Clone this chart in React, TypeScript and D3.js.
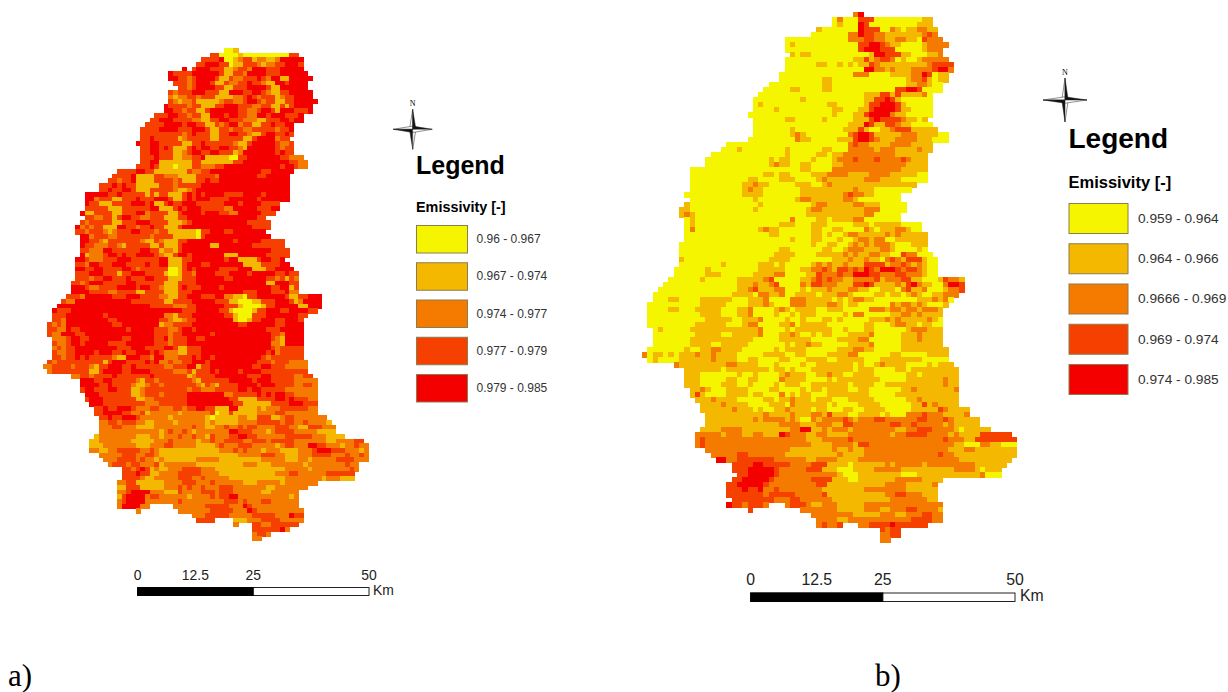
import React from "react";
import { scaleLinear, scaleOrdinal } from "d3";

// classes: 0 lowest ... 4 highest emissivity
const classColors = ["#f5f500", "#f5b800", "#f57a00", "#f54000", "#f50000"];

const leftLabels = ["0.96 - 0.967", "0.967 - 0.974", "0.974 - 0.977", "0.977 - 0.979", "0.979 - 0.985"];
const rightLabels = ["0.959 - 0.964", "0.964 - 0.966", "0.9666 - 0.969", "0.969 - 0.974", "0.974 - 0.985"];
const scaleTicks = [0, 12.5, 25, 50];

// raster outline: first column and end column of each of the 106 rows
const leftStarts = [39,36,34,33,30,27,27,28,29,27,27,27,26,26,24,23,22,21,21,21,20,21,21,21,21,20,16,15,14,12,12,9,9,9,9,8,9,8,7,7,8,8,8,8,8,7,7,7,7,7,6,6,6,5,4,3,2,2,2,1,1,1,2,2,2,2,2,1,0,1,6,8,8,8,9,9,10,11,11,12,12,12,12,11,10,10,10,12,13,14,17,17,17,16,16,16,16,16,16,20,32,33,41,45,45,45];
const leftEnds = [42,55,56,56,56,57,58,57,57,58,58,59,58,58,56,56,54,54,54,53,54,54,54,56,57,57,54,53,53,53,53,53,53,51,51,50,48,49,49,48,49,52,52,53,53,52,53,54,55,55,55,55,55,60,60,60,59,57,56,56,56,56,56,56,56,56,56,57,57,57,58,59,59,59,59,59,59,59,59,61,62,63,63,65,69,70,70,70,70,68,68,67,67,59,57,55,55,55,55,56,56,56,55,53,49,47];
const rightStarts = [40,36,36,33,32,27,27,27,28,27,27,27,26,26,24,23,22,21,21,21,20,21,21,21,21,20,16,15,13,12,12,9,9,9,9,9,8,9,8,7,7,8,8,8,8,8,7,7,7,7,7,6,6,5,4,3,2,2,1,1,1,1,1,2,2,2,2,1,0,1,6,8,8,8,8,9,9,10,11,11,12,12,12,11,10,10,10,12,13,14,17,17,18,17,16,16,16,17,16,20,32,33,33,45,45,45];
const rightEnds = [42,55,55,56,56,57,58,57,57,58,59,59,58,58,57,57,55,55,55,55,55,54,55,56,58,58,55,55,54,54,54,54,54,54,52,51,49,49,50,50,49,49,53,53,54,54,54,54,55,56,56,56,56,61,61,61,60,59,58,57,57,57,57,57,57,57,57,58,58,58,59,60,60,60,60,60,60,60,60,62,62,64,64,66,70,71,71,71,71,70,69,68,68,57,56,56,56,56,57,57,57,57,54,49,49,47];

// raster classes, row by row, from the row's first column
const leftRows = [
"001",
"3300001000000000033",
"3333400123312211244444",
"33444330113332122334443",
"4.34443331123324443334444",
"433334444443113324444333444444",
"4433234444311322333432441144444",
"33323444311322334332114434444",
"3323444433113334444311444444",
"3233344433311444334432113344444",
"2122332333111122343233312334444",
"32122311111233223443233113344444",
"43333233111334443332233113134444",
"44332331134444443322344314443334",
"33344332331144434433224434443334",
"334443333221133443332221133344344",
"33334444344331132344233113343344",
"333344443334443113323322333332334",
"333333333234333113344332113443343",
"33433333123333311333331134444233",
"4334433333113343333332113444443223",
"334434311134344334433214444443233",
"334433311234433443331244444443433",
"33343331122334111110033444444433222",
"334411111113311111113344444444443322",
"3334311101113322233444444444444344322",
"33334433111111132233444444444443344444",
"33334111133222111133332444444443344444",
"332334111133332311133433444444444444444",
"33343433111113332333334444444444444444444",
"33433443111333332112344444444444444444444",
"44444334333331313311134343444433334444344444",
"44233311333433344431134344433334444443444444",
"433111333344434113433444333333444344443333",
"333331113333334411134344433333224444433344",
"41133331133344233331134444344433224444433",
"332233134433223331113344444444444444433",
"32333331133344433331112344444444444433333",
"423233111443323343311134444444444444443333",
"33233321233344333233111111033444334444444",
"44233322333333323333111110344444444444444",
"44332133333332113211133444444444434444433333",
"43322233213333311311134444441144444443333333",
"332224433333344331221344444444444444444443333",
"412223443433444432113443444444411144444433333",
"4432223334443333334411133444444434411113443344",
"33244333444333343344111344433444444411113333443",
"443344333344323333330013434444433334441113344444",
"333444333133444333310013324444333444434444433433",
"333233443334333443331113334444443344444443323132",
"3323444333334433333311133334444444444444441144433",
"4443223333444434433211134333444434444444444334413",
"4444333322333311333311133344444444444333444333422",
"33324444443334443333221133444333442211033444444311334",
"322444444444444333333311333344444333110001133344431244",
"444444444444444444443333322233444444333100001334444411444",
"43334444444444444444444444443334444433100001334443344443",
"3334444444434444444444442213334444444331000333444444433",
"3324444444443344444444433211233444444441001334443344433",
"32324444444444334444444412233334444444444334444443344444",
"3322433444444444434444433322344344444444444444433344444",
"322444334444444444444443332334444443444444444444332444",
"2223443344444443344444334233344334444444444444432144",
"3223443444443333444444333233344444444444444444422144",
"2323344444444433344433334431133344444444444444432333",
"32233444434443343344434322211333444444444444443423333",
"3323343433333211444332442223334344344444444443233333",
"32333333333313444333343422322334443444444444433323332",
"22333323332133444334333333223334413344444444433443332",
"233333333113444433444433333222313334344443444433333333",
"2233233334333333343333333123333444444433344333332233",
"44433443333321332333333321333333444443444333332222222",
"444433433332112332333333321321333344443444333322332222",
"344333443331123333333332332223333344344333332222222222",
"44433333331123332333334444444422333334343443322222222",
"3444333333311223333333444444444331111333344343332222222",
"444333333333222333333444444444433111111333344433333332",
"33433444322233222332334433111441111212223333332222222",
"334444332231222222122222230113111112222332222222222",
"334334443222222122222221011111221133311233222222222122",
"223323332211222212222221211111222233333233223222211113",
"222332221111222222223221122322323322223332211333222211112",
"2222222222222123223212222222443332221233332222211111222",
"12222222211122122232232213222334433222222333333222111122233",
"1122222221111122232222212232233332233323333322222221122223333",
"11122222221112223322222111123222333222221233222443322212232233",
"221122333332232111111111111122232322212221111222344433322212323",
"22222333223321111111111111111122222333221112223333222322322",
"222333323221211111112222211111111122222111221222223333222213",
"23332332223122222221111111111222111222222212222222232213",
"332343121122233332221111111111111112222212222222232233",
"3334331122223333322221111111111112223322222233333332",
"3333211222223332232222211111111111122222222122211",
"22331111112222333222322222211122222122222222122",
"113331111122232322322233322222221122222222111",
"223444422211132222333233322222211222222221",
"1344442332222221222232334422222222222122",
"2344442222222322222222233323222332222222",
"2444422.....222222233333222432222222222",
"2........22222223333322243222222222",
"2223333322222333332224332222",
"3333....1112223333222223",
"2...33223333333343",
"33333342",
"23322",
"22",
];

const rightRows = [
"24",
"0200033300000000011",
"0100043000000000111",
"10000000433300210112211",
"0000000224332211111112321",
"000000000000222332211221103222101",
"01000000000000334432110000122220110",
"00000000000000344433300000122221100",
"10110000000000014433311000112222000",
"00000000000001131233201001222221000",
"00000011001010113211111111123333321",
"00000000000000044221211122223442222",
"00000000000000222000011112243011",
"00000000110000000000000012231011",
"00000000001100000000000000112210000",
"0000011000011000000000000334430000",
"000000000000000000001113313111120000",
"0000000001000000000001133431000000",
"0100000000000011000001334443100000",
"0000100000000001100011344443110000",
"0000000000000000100011344442110000",
"00000011000001000001113433332110100",
"0000000000000000001114311332110000",
"0000000100000000011131001123331111",
"00000001210000000023443111112221111000",
"000000000211000001113443211122221110000",
"00000000000000000000000232211112222111100",
"00010000000010000001100022222122211112111",
"00000000000000100000110112222222222111",
"000000000000101100001000122232223222232111",
"000000000000121100110000112222222222221111",
"00000000000000000000011000022222222222221111",
"00000000000000110110000111222211112222111110",
"00000000000110000111000012111111122211110",
"00000000001121100000111001211111111111111",
"000000000012110000000111111111121110",
"000000000001111000000011111111232211000",
"000000000000100000001221111112210000",
"10000000000000100000000012211111221110000",
"110000000000001000000000122111111112220000",
"121000000000000000000000111111111112200000",
"0100000000000000000020000110111122000",
"010000000000000000111000111000001110111110",
"020000000000001211000000110011000021011122100",
"000000000000000011000000110100122111112121111",
"00000000000000000000100011000100122122001111",
"0000000000000000000000000100110012121222100011",
"00000000000000000001100000011001222111221000010",
"00000000000000000011110000111112121122110032200",
"1000000000000000011110000000011121121102321333100",
"0000000010000001110100000121211211133331223212100",
"000000100000000011111000112232133232432444323321000",
"000000111000000111122000011322232244433222332221000",
"00000010000001111123000001123232211222231222331100013221",
"000000000000001112112300002133222111334311112134211002443",
"00000000000000011231112200010111211122110011102311200012232",
"00000000000000011110221120011110111221000011011012100112221",
"0001100001111110001112000022211111010122110000000011121200011",
"00000000001111100001112100022211112210110000002122121000110",
"00001100011111000112000012101111001110000022212212212221",
"0000000000111100011200001001011100000102200000112212111",
"00000000000111110011120000100100011010000011121211111210",
"0000000001111110001220000112011111000000011000122110110",
"0100000111111111111120000101111111001000110000001222111",
"000000001111100111112000112100101100011112000001112111",
"00000001111111111110000011111100000111122000000111211",
"00000001111001111100000001011211000001111200000111111",
"0000000100112211110000001011110000001112211000001111111",
"2011010111211211110000011110011000011112200000011000001",
"01000011111121111001100001100011110011111000111111110",
"2111111111221111000100001001111111010012111100001011111",
"11111110111111110110100011111111011100001101111111112",
"11100000001001000012111001121100111100000011011111111",
"11100000110011000021111000010111111110000011111112111",
"1110000111001000010111001111111011110011111111111211",
"112100011110000110000101101111001100000011211111112",
"13100001111011000201011000111111110000011111111111",
"1112111100000110112111011100011111000000112111111",
"11112111100001110211111101000011110000001131211111",
"111111211101001121111011000110011110000011111321111",
"1111111111121111211122131110011110100022232221111221",
"1111111112122221210021222232122233222222332223211111111",
"11111111111111222211122211332222222332232222212111",
"1111222211111111122441121222122222222112233322221011111",
"2222212221122111432221122111122222222122333322221211113",
"232222222222222222222111222223222222222222222223222113333",
"23222222222222222222221111222213322222222222222221100022110",
"222222222222222211111111211211222222222222222211122111",
"22222332222222111111111121111222222222222223221111111111",
"442233333332222221122221111222222222222222222211111",
"333344333332222333111101111112122222122222222211111",
"33344444322222333111000111122222111111111122221011111",
"33444443222222222221000111111110001111111111112000",
"33444443222222233331110011111112222211111111222211",
"334444432222222223311111111111222211111222222110",
"3334334223222222221111111122222222111111111111",
"33333332333332222231111111111122332221111222211",
"33333333222332222221111111111122222221122222111",
"43323332...23332112221111122222222222222232222",
"3.........2222222111112221122233222211111111",
"222222221111122211222332221122222",
"2222112222222222223333222222",
"23223...2233334333333222",
"3233333",
"2233",
"22",
];

// rows are fitted to the outline: cut at the end column, or carried on with their last class
const fit = (rows: string[], starts: number[], ends: number[]) =>
  rows.map((row, r) => {
    const n = ends[r] - starts[r];
    return row.length >= n ? row.slice(0, n) : row.padEnd(n, row[row.length - 1]);
  });

function Compass({ cx, cy, rx, ry, nY }: { cx: number; cy: number; rx: number; ry: number; nY: number }) {
  const w = 3.2;
  const arm = (x: number, y: number, ox: number, oy: number, fill: string) => (
    <polygon key={`${x}-${y}-${ox}-${oy}`} points={`${x},${y} ${cx + ox},${cy + oy} ${cx},${cy}`} fill={fill} stroke="#222" strokeWidth={0.5} />
  );
  return (
    <g>
      <text x={cx} y={nY} textAnchor="middle" fontSize={8} fontFamily="Liberation Serif">N</text>
      {arm(cx, cy - ry, -w, 0, "#fff")}
      {arm(cx, cy - ry, w, 0, "#111")}
      {arm(cx, cy + ry, -w, 0, "#111")}
      {arm(cx, cy + ry, w, 0, "#fff")}
      {arm(cx - rx, cy, 0, -w, "#fff")}
      {arm(cx - rx, cy, 0, w, "#111")}
      {arm(cx + rx, cy, 0, -w, "#111")}
      {arm(cx + rx, cy, 0, w, "#fff")}
    </g>
  );
}

function Raster({ starts, ends, rows, x0, y0, cw, ch }: { starts: number[]; ends: number[]; rows: string[]; x0: number; y0: number; cw: number; ch: number }) {
  const xScale = scaleLinear().domain([0, 71]).range([x0, x0 + 71 * cw]);
  const yScale = scaleLinear().domain([0, 106]).range([y0, y0 + 106 * ch]);
  const color = scaleOrdinal<string, string>().domain(["0", "1", "2", "3", "4"]).range(classColors);
  return (
    <g filter="url(#soft)">
      <g shapeRendering="crispEdges">
        {fit(rows, starts, ends).map((row, r) =>
          row.split("").map((c, i) =>
            c === "." ? null : (
              <rect
                key={`${r}-${i}`}
                x={xScale(starts[r] + i)}
                y={yScale(r)}
                width={xScale(1) - xScale(0) + 0.5}
                height={yScale(1) - yScale(0) + 0.5}
                fill={color(c)}
              />
            )
          )
        )}
      </g>
    </g>
  );
}

function Legend({ labels, x, w, ys, h, titleY, titleSize, headY, headSize, labelX, labelSize }: any) {
  const yScale = scaleLinear().domain([0, 4]).range(ys);
  return (
    <g fontFamily="Liberation Sans">
      <text x={x} y={titleY} fontSize={titleSize} fontWeight="bold">Legend</text>
      <text x={x} y={headY} fontSize={headSize} fontWeight="bold">Emissivity [-]</text>
      {labels.map((l: string, i: number) => (
        <g key={l}>
          <rect x={x + 0.5} y={yScale(i) + 0.5} width={w} height={h} fill={classColors[i]} stroke="#8c7d50" strokeWidth={1} />
          <text x={labelX} y={yScale(i) + h / 2 + labelSize * 0.36} fontSize={labelSize} fill="#333">{l}</text>
        </g>
      ))}
    </g>
  );
}

function ScaleBar({ x0, x1, y, h, labelY, size, kmX, kmY }: any) {
  const xScale = scaleLinear().domain([0, 50]).range([x0, x1]);
  return (
    <g fontFamily="Liberation Sans" fontSize={size} fill="#222">
      <rect x={x0} y={y} width={x1 - x0} height={h} fill="#fff" stroke="#222" strokeWidth={1} />
      <rect x={x0} y={y} width={xScale(25) - x0} height={h} fill="#000" stroke="#000" strokeWidth={1} />
      {scaleTicks.map(t => (
        <text key={t} x={xScale(t)} y={labelY} textAnchor="middle">{t}</text>
      ))}
      <text x={kmX} y={kmY}>Km</text>
    </g>
  );
}

export default function App() {
  return (
    <svg width={1228} height={692} style={{ position: "fixed", left: 0, top: 0, background: "#fff" }}>
      <defs>
        <filter id="soft" x="-5%" y="-5%" width="110%" height="110%">
          <feGaussianBlur stdDeviation={0.45} />
        </filter>
      </defs>
      <Raster starts={leftStarts} ends={leftEnds} rows={leftRows} x0={42.7} y0={48} cw={4.65} ch={4.65} />
      <Raster starts={rightStarts} ends={rightEnds} rows={rightRows} x0={642} y0={12} cw={5.28} ch={5} />
      <Compass cx={412.7} cy={129.3} rx={19.5} ry={20} nY={106} />
      <Compass cx={1065} cy={100} rx={22} ry={22} nY={75} />
      <Legend labels={leftLabels} x={416} w={51} ys={[225, 374]} h={27.5} titleY={174} titleSize={25} headY={212} headSize={14.4} labelX={476.5} labelSize={12} />
      <Legend labels={rightLabels} x={1068.5} w={59} ys={[203, 364]} h={30} titleY={148} titleSize={28} headY={188} headSize={16.5} labelX={1138} labelSize={13.7} />
      <ScaleBar x0={137.5} x1={369} y={587.5} h={8} labelY={580} size={13.9} kmX={373} kmY={595} />
      <ScaleBar x0={750.7} x1={1015} y={593} h={8.5} labelY={585} size={15.8} kmX={1020} kmY={601} />
      <g fontFamily="Liberation Serif" fontSize={31}>
        <text x={8} y={686}>a)</text>
        <text x={875} y={686}>b)</text>
      </g>
    </svg>
  );
}
